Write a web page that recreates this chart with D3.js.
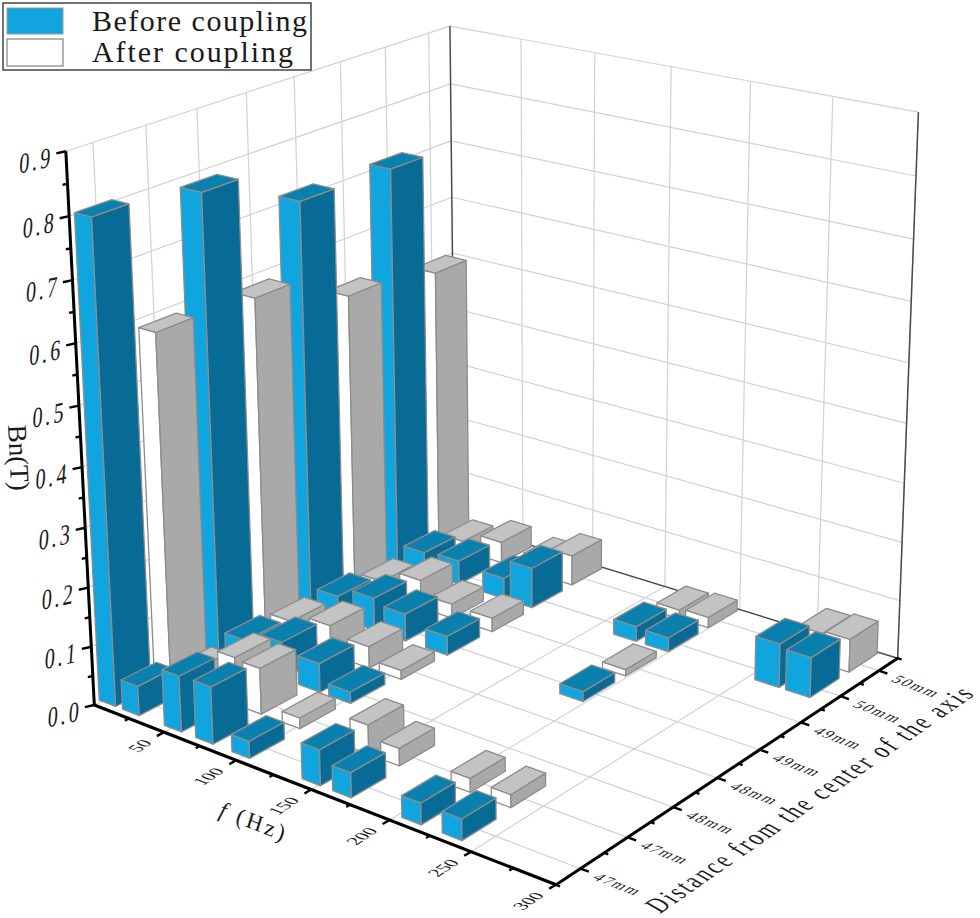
<!DOCTYPE html>
<html><head><meta charset="utf-8">
<style>html,body{margin:0;padding:0;background:#fff}svg{display:block}text{font-family:"Liberation Serif",serif;fill:#1a1a1a}</style>
<script src="https://cdn.jsdelivr.net/npm/d3@7"></script>
</head><body><svg id="c" width="980" height="918"></svg>
<script>
// ---------- data ----------
const distanceLabels = ['47mm','47mm','48mm','48mm','49mm','49mm','50mm','50mm'];
const fTickLabels = [50,100,150,200,250,300];
const zTickLabels = [0,0.1,0.2,0.3,0.4,0.5,0.6,0.7,0.8,0.9];

const before47f = [4,21,51,73,98,145,165,209,234];
const before47v = [0.80,0.05,0.094,0.096,0.0285,0.059,0.041,0.035,0.0345];
const after47f  = [5.5,21.5,52.5,70,96.5,142.5,162.5,207.5,232.5];
const after47v  = [0.585,0.03,0.081,0.078,0.018,0.049,0.029,0.023,0.021];
const before48f = [4,24,50,76,97];
const before48v = [0.78,0.044,0.0635,0.0495,0.0195];
const after48f  = [4,23,51,78,100];
const after48v  = [0.577,0.0345,0.051,0.0375,0.0155];
const before49f = [4,24,50,72,101,191];
const before49v = [0.708,0.0385,0.057,0.0475,0.033,0.017];
const after49f  = [4,24,52,74,102,191];
const after49v  = [0.517,0.025,0.05,0.0256,0.024,0.011];
const before50f = [4,24,49,81,100.5,171,192,262,281];
const before50v = [0.706,0.0375,0.042,0.037,0.071,0.026,0.0245,0.0745,0.068];
const after50f  = [4,22,50,81,100,173,192,264,281];
const after50v  = [0.495,0.0175,0.038,0.031,0.053,0.0155,0.0185,0.052,0.0565];

const rows = [
 [0,'before',before47f,before47v],[1,'after',after47f,after47v],
 [2,'before',before48f,before48v],[3,'after',after48f,after48v],
 [4,'before',before49f,before49v],[5,'after',after49f,after49v],
 [6,'before',before50f,before50v],[7,'after',after50f,after50v]];

// ---------- scales ----------
const fScale = d3.scaleLinear().domain([0,300]).range([0,1]);
const dScale = d3.scaleBand().domain(d3.range(8)).range([0,1]);
const zScale = d3.scaleLinear().domain([0,0.9]).range([0,1]);
const barFNear = 12, barFFar = 15, barDNear = 0.70, barD = 0.74, barShift = 0.08;

// ---------- camera: fitted to where the frame sits on the page ----------
const frameFit = [
 [0,0,0,97,706],[50,0,0,160,731],[100,0,0,233,758],[150,0,0,308,788],[200,0,0,388,819],[250,0,0,470,850],[300,0,0,558,883],
 [300,.5,0,583,868],[300,1.5,0,630,837],[300,2.5,0,675,807],[300,3.5,0,718,777],[300,4.5,0,760,750],[300,5.5,0,803,723],[300,6.5,0,842,697],[300,7.5,0,880,673],[300,8,0,897,659],
 [250,8,0,816,634],[200,8,0,737,610],[150,8,0,662,587],
 [0,0,.9,64,150],[0,0,.8,68,217],[0,0,.7,72,281],[0,0,.6,76,345],[0,0,.5,80,407],[0,0,.3,86,531],[0,0,.2,89,589],[0,0,.1,93,648],
 [0,8,.9,452,27],[50,8,.9,517,39],[100,8,.9,592,53],[150,8,.9,669,67],[200,8,.9,750,82],[250,8,.9,833,97],[300,8,.9,919,113],
 [300,8,.8,915,175],[0,8,.8,452,83],[0,8,.7,453,138],[0,8,.6,454,193],
 [0,.5,.9,92,142],[0,1.5,.9,145,125],[0,2.5,.9,197,108],[0,3.5,.9,247,92],[0,4.5,.9,295,77],[0,5.5,.9,342,62],[0,6.5,.9,387,48],[0,7.5,.9,430,33]
];
function solve(A,b){const n=b.length;const M=A.map((r,i)=>[...r,b[i]]);
 for(let c=0;c<n;c++){let p=c;for(let r=c+1;r<n;r++)if(Math.abs(M[r][c])>Math.abs(M[p][c]))p=r;
  [M[c],M[p]]=[M[p],M[c]];
  for(let r=0;r<n;r++){if(r===c)continue;const k=M[r][c]/M[c][c];for(let j=c;j<=n;j++)M[r][j]-=k*M[c][j];}}
 return M.map((r,i)=>r[n]/r[i]);}
const cam=(function(){const N=d3.range(11).map(()=>d3.range(11).map(()=>0)),R=d3.range(11).map(()=>0);
 const add=(row,y)=>{for(let i=0;i<11;i++){R[i]+=row[i]*y;for(let j=0;j<11;j++)N[i][j]+=row[i]*row[j];}};
 frameFit.forEach(([f,d,z,x,y])=>{const u=f/300,v=d/8,w=z/.9,X=x/1000,Y=y/1000;
  add([u,v,w,1,0,0,0,0,-X*u,-X*v,-X*w],X);add([0,0,0,0,u,v,w,1,-Y*u,-Y*v,-Y*w],Y);});
 return solve(N,R);})();
function P(u,v,w){const q=1+cam[8]*u+cam[9]*v+cam[10]*w;
 return [1000*(cam[0]*u+cam[1]*v+cam[2]*w+cam[3])/q,1000*(cam[4]*u+cam[5]*v+cam[6]*w+cam[7])/q];}
const pf=(f,d,z)=>P(fScale(f),d,zScale(z)); // d already 0..1

const svg=d3.select('#c');
const lineOf=(pts)=>d3.line()(pts);
function seg(g,a,b,color,width){g.append('path').attr('d',lineOf([a,b])).attr('stroke',color).attr('stroke-width',width).attr('fill','none');}

// ---------- grid ----------
const grid=svg.append('g');const GC='#d2d2d2',GW=1.2;
const dCenters=d3.range(8).map(i=>dScale(i)+dScale.bandwidth()/2);
[50,100,150,200,250,300].forEach(f=>{seg(grid,pf(f,0,0),pf(f,1,0),GC,GW);seg(grid,pf(f,1,0),pf(f,1,.9),GC,GW);});
dCenters.forEach(d=>{seg(grid,pf(0,d,0),pf(300,d,0),GC,GW);seg(grid,pf(0,d,0),pf(0,d,.9),GC,GW);});
zTickLabels.slice(1).forEach(z=>{seg(grid,pf(0,0,z),pf(0,1,z),GC,GW);seg(grid,pf(0,1,z),pf(300,1,z),GC,GW);});
const DK='#4a4a4a';
seg(grid,pf(0,1,0),pf(0,1,.9),DK,1.5);seg(grid,pf(300,1,0),pf(300,1,.9),DK,1.5);
seg(grid,pf(0,1,0),pf(300,1,0),DK,1.5);seg(grid,pf(0,0,0),pf(0,1,0),GC,GW);

// ---------- bars ----------
const colors={before:{front:'#11a5e0',side:'#086b96',top:'#0a80ae'},after:{front:'#ffffff',side:'#a9a9a9',top:'#c3c3c3'}};
const bars=[];
rows.forEach(([i,kind,fs,vs])=>fs.forEach((f,k)=>bars.push({i,kind,f,v:vs[k]})));
bars.sort((a,b)=>b.i-a.i||a.f-b.f);
const gb=svg.append('g').attr('stroke','#8c8c8c').attr('stroke-width',1.3).attr('stroke-linejoin','round');
bars.forEach(b=>{
 const near=b.i<2,wf=near?barFNear:barFFar,wd=b.i===0?barDNear:barD;
 const bw=dScale.bandwidth(),c=dScale(b.i)+bw/2+(b.i>0?bw*barShift:0),d0=c-bw*wd/2,d1=c+bw*wd/2,f0=b.f-wf/2,f1=b.f+wf/2;
 const col=colors[b.kind];
 const poly=(pts,fill)=>gb.append('path').attr('d',lineOf(pts)+'Z').attr('fill',fill);
 poly([pf(f0,d0,0),pf(f1,d0,0),pf(f1,d0,b.v),pf(f0,d0,b.v)],col.front);
 poly([pf(f1,d0,0),pf(f1,d1,0),pf(f1,d1,b.v),pf(f1,d0,b.v)],col.side);
 poly([pf(f0,d0,b.v),pf(f1,d0,b.v),pf(f1,d1,b.v),pf(f0,d1,b.v)],col.top);
});

// ---------- axes ----------
const ax=svg.append('g');const BK='#000';
seg(ax,pf(0,0,0),pf(0,0,.9),BK,3);seg(ax,pf(0,0,0),pf(300,0,0),BK,3.2);seg(ax,pf(300,0,0),pf(300,1,0),BK,3);
// z axis ticks and labels
d3.range(0,19).map(i=>i*0.05).forEach((z,i)=>{const p=pf(0,0,z),maj=i%2===0,l=maj?9.5:5;
 seg(ax,p,[p[0]-l,p[1]+l*.22],BK,2.4);});
zTickLabels.forEach(z=>{const p=pf(0,0,z);
 ax.append('text').text(z.toFixed(1)).attr('text-anchor','end').attr('font-size',20).attr('letter-spacing',3)
  .attr('transform',`matrix(1,-.22,-.1,1.45,${p[0]-13},${p[1]+15})`);});
// f axis
d3.range(1,13).map(i=>i*25).forEach((f,i)=>{const p=pf(f,0,0),maj=(i+1)%2===0,l=maj?8:4.5;
 seg(ax,p,[p[0]-l*.87,p[1]+l*.5],BK,2.4);});
fTickLabels.forEach(f=>{const p=pf(f,0,0);
 ax.append('text').text(f).attr('text-anchor','end').attr('font-size',18)
  .attr('transform',`matrix(.83,-.55,.93,.36,${p[0]-11},${p[1]+11})`);});
// d axis
d3.range(0,9).forEach(i=>{const p=pf(300,i/8,0);seg(ax,p,[p[0]+4,p[1]+1.5],BK,2.4);});
distanceLabels.forEach((t,i)=>{const p=pf(300,dCenters[i],0);seg(ax,p,[p[0]+8.5,p[1]+3],BK,2.4);
 ax.append('text').text(t).attr('font-size',16).attr('textLength',46).attr('lengthAdjust','spacing')
  .attr('transform',`matrix(.93,.36,-.83,.55,${p[0]+11},${p[1]+10})`);});
// axis titles
ax.append('text').text('Distance from the center of the axis').attr('font-size',21).attr('textLength',384).attr('lengthAdjust','spacing')
 .attr('transform','matrix(.82,-.57,1.2,.7,660,914)');
const ft=ax.append('text').attr('font-size',23).attr('letter-spacing',3).attr('transform','matrix(.93,.36,-.3,.95,218,816)');
ft.append('tspan').text('f').attr('font-style','italic');ft.append('tspan').text(' (Hz)');
ax.append('text').text('Bn(T)').attr('font-size',27)
 .attr('transform','matrix(.05,1,-1,.03,8,425)');

// ---------- legend ----------
const lg=svg.append('g');
lg.append('rect').attr('x',3).attr('y',3).attr('width',308).attr('height',67).attr('fill','#fff').attr('stroke','#444').attr('stroke-width',1.5);
lg.append('rect').attr('x',7).attr('y',8).attr('width',56).attr('height',26).attr('fill',colors.before.front).attr('stroke','#9a9a9a').attr('stroke-width',1);
lg.append('rect').attr('x',7).attr('y',39).attr('width',56).attr('height',27).attr('fill','#fff').attr('stroke','#9a9a9a').attr('stroke-width',1.5);
lg.append('text').text('Before coupling').attr('x',92).attr('y',31).attr('font-size',30).attr('textLength',215).attr('lengthAdjust','spacing');
lg.append('text').text('After coupling').attr('x',92).attr('y',62).attr('font-size',30).attr('textLength',201).attr('lengthAdjust','spacing');
</script></body></html>
